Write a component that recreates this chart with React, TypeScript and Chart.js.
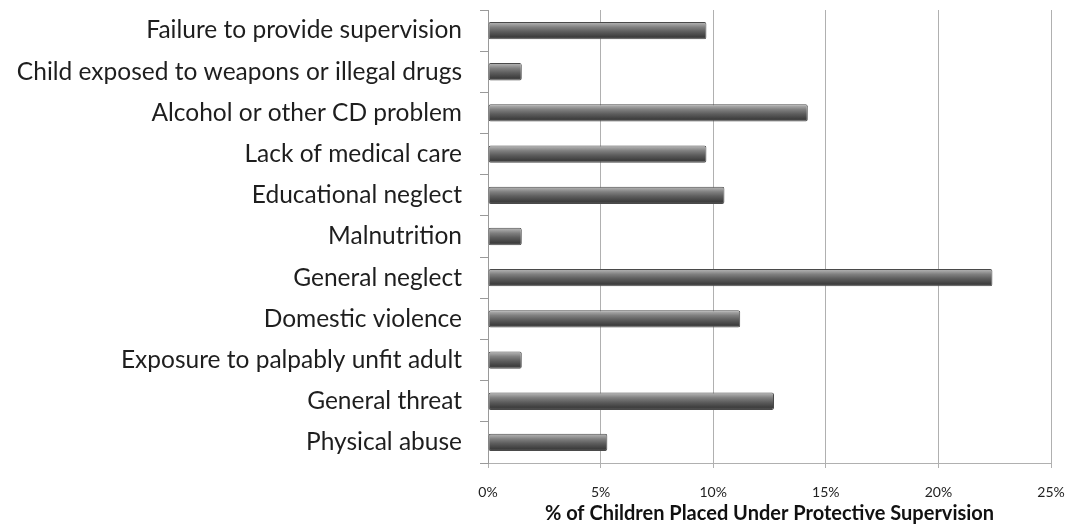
import React, { useEffect, useRef } from "react";
import { Chart, registerables } from "chart.js";

Chart.register(...registerables);

const categories: string[] = [
  "Failure to provide supervision",
  "Child exposed to weapons or illegal drugs",
  "Alcohol or other CD problem",
  "Lack of medical care",
  "Educational neglect",
  "Malnutrition",
  "General neglect",
  "Domestic violence",
  "Exposure to palpably unfit adult",
  "General threat",
  "Physical abuse",
];

const percentValues: number[] = [9.7, 1.5, 14.2, 9.7, 10.5, 1.5, 22.4, 11.2, 1.5, 12.7, 5.3];

const xTicks: number[] = [0, 5, 10, 15, 20, 25];

const xAxisTitle = "% of Children Placed Under Protective Supervision";

const BAR_PCT = 0.42;

export default function App() {
  const canvasRef = useRef<HTMLCanvasElement | null>(null);

  useEffect(() => {
    document.body.style.margin = "0";
    const canvas = canvasRef.current;
    if (!canvas) return;

    const barFill = (ctx: any) => {
      const chart = ctx.chart;
      const ys = chart.scales && chart.scales.y;
      if (!ys || ctx.dataIndex === undefined) return "#5a5a5a";
      const c = ys.getPixelForValue(ctx.dataIndex);
      const h = (ys.height / categories.length) * BAR_PCT;
      if (!isFinite(c) || !isFinite(h) || h <= 0) return "#5a5a5a";
      const g = chart.ctx.createLinearGradient(0, c - h / 2, 0, c + h / 2);
      g.addColorStop(0, "#b8b8b8");
      g.addColorStop(0.12, "#a4a4a4");
      g.addColorStop(0.3, "#808080");
      g.addColorStop(0.55, "#5e5e5e");
      g.addColorStop(0.85, "#3e3e3e");
      g.addColorStop(1, "#585858");
      return g;
    };

    const chart = new Chart(canvas, {
      type: "bar",
      data: {
        labels: categories,
        datasets: [
          {
            data: percentValues,
            backgroundColor: barFill,
            borderColor: "#4a4a4a",
            borderWidth: 1,
            borderSkipped: false,
            borderRadius: 2,
            barPercentage: BAR_PCT,
            categoryPercentage: 1,
          },
        ],
      },
      options: {
        indexAxis: "y",
        animation: false,
        responsive: false,
        maintainAspectRatio: false,
        events: [],
        layout: { padding: { top: 10, right: 20, bottom: 0, left: 0 } },
        plugins: {
          legend: { display: false },
          tooltip: { enabled: false },
        },
        scales: {
          x: {
            type: "linear",
            min: 0,
            max: 25,
            afterBuildTicks: (scale: any) => {
              scale.ticks = xTicks.map((v) => ({ value: v }));
            },
            afterFit: (scale: any) => {
              scale.height = 63;
              scale.paddingLeft = 0;
              scale.paddingRight = 0;
            },
            grid: {
              color: "#b0b0b0",
              lineWidth: 1,
              tickLength: 5,
            },
            border: { display: true, color: "#b0b0b0" },
            ticks: {
              color: "#222",
              padding: 16,
              font: { family: "Lato", size: 14 },
              callback: (v: any) => `${v}%`,
              maxRotation: 0,
            },
            title: {
              display: true,
              text: xAxisTitle,
              color: "#111",
              font: { family: "Lato", size: 20, weight: "bold" },
              padding: { top: 0, bottom: 0 },
            },
          },
          y: {
            type: "category",
            afterFit: (scale: any) => {
              scale.width = 488;
              scale.paddingTop = 0;
              scale.paddingBottom = 0;
            },
            grid: {
              display: true,
              drawOnChartArea: false,
              drawTicks: true,
              tickLength: 8,
              color: "#9a9a9a",
              offset: true,
            },
            border: { display: true, color: "#9a9a9a" },
            ticks: {
              color: "#1e1e1e",
              padding: 18,
              font: { family: "Lato", size: 24.5 },
              autoSkip: false,
            },
          },
        },
      },
    });

    return () => {
      chart.destroy();
    };
  }, []);

  return (
    <div style={{ width: 1071, height: 526, position: "relative", background: "#fff" }}>
      <canvas ref={canvasRef} width={1071} height={526} style={{ display: "block" }} />
    </div>
  );
}
